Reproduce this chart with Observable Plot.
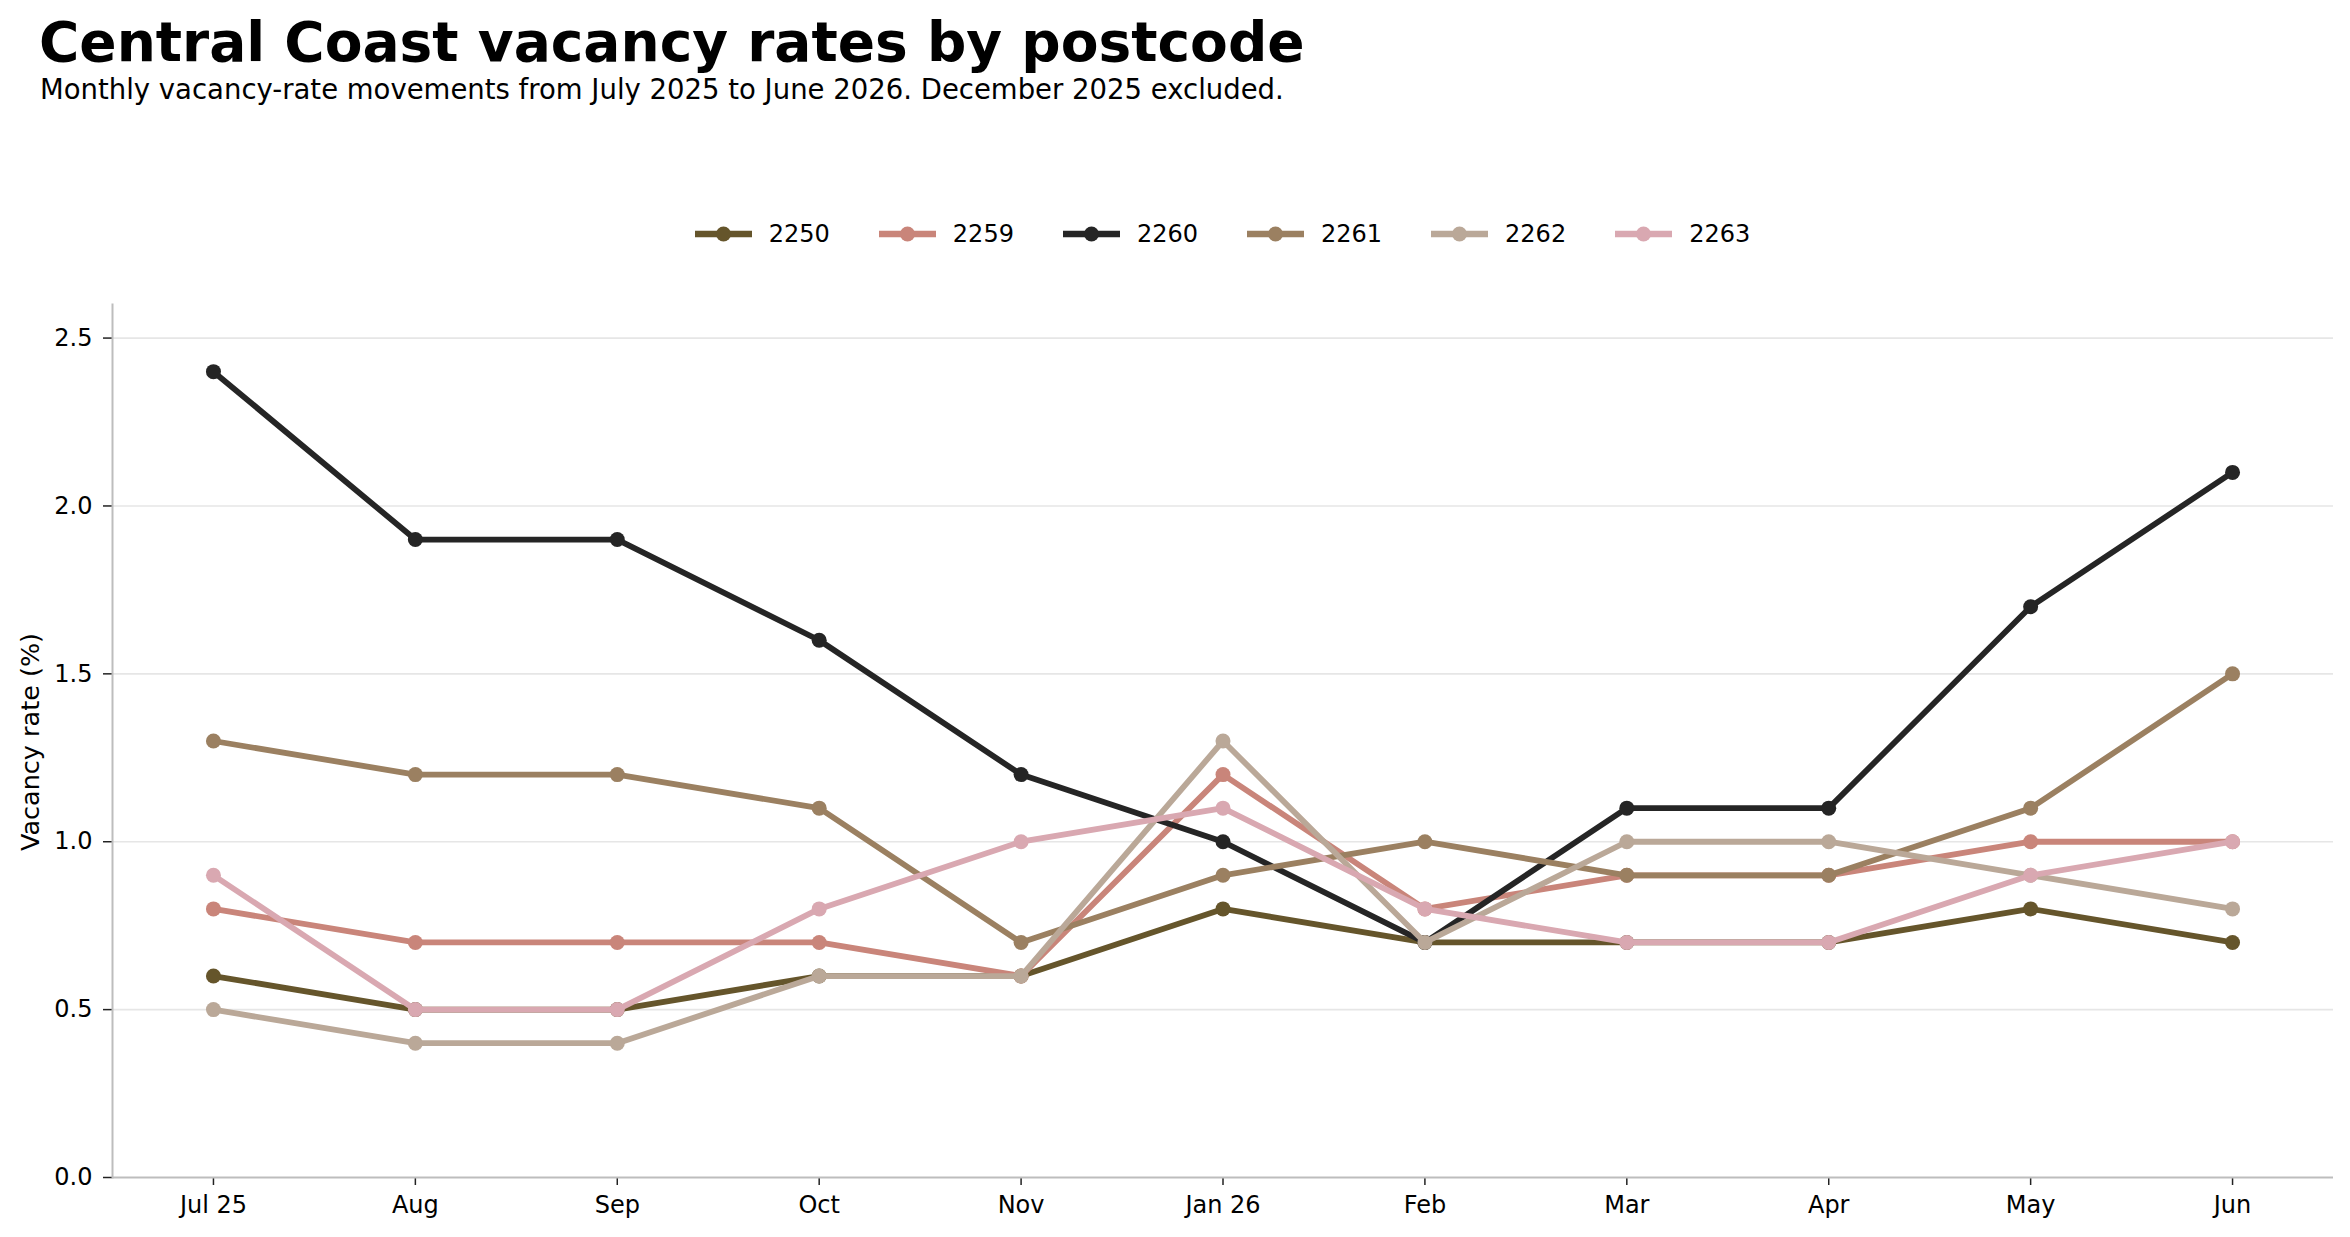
<!DOCTYPE html>
<html>
<head>
<meta charset="utf-8">
<script src="https://cdn.jsdelivr.net/npm/d3@7"></script>
<script src="https://cdn.jsdelivr.net/npm/@observablehq/plot@0.6"></script>
<style>
  html, body { margin: 0; padding: 0; background: #fff; }
  body { width: 2350px; height: 1237px; position: relative; overflow: hidden; font-family: "DejaVu Sans", sans-serif; color: #000; }
  #title { position: absolute; left: 39px; top: 15px; font-size: 55px; line-height: 55px; font-weight: bold; white-space: nowrap; }
  #subtitle { position: absolute; left: 40px; top: 76px; font-size: 27.5px; line-height: 27.5px; white-space: nowrap; }
  #legend { position: absolute; left: 112px; width: 2221px; top: 216px; height: 36px; display: flex; justify-content: center; align-items: center; z-index: 2; }
  .item { display: flex; align-items: center; margin: 0 24.5px; font-size: 24px; }
  .item svg { margin-right: 17px; }
  #ylabel { position: absolute; left: 30px; top: 742px; transform: translate(-50%, -50%) rotate(-90deg); font-size: 25.5px; white-space: nowrap; z-index: 2; }
  #chart { position: absolute; left: 0; top: 270px; z-index: 1; }
</style>
</head>
<body>
<div id="title">Central Coast vacancy rates by postcode</div>
<div id="subtitle">Monthly vacancy-rate movements from July 2025 to June 2026. December 2025 excluded.</div>
<div id="legend"></div>
<div id="ylabel">Vacancy rate (%)</div>
<div id="chart"></div>
<script>
// Months shown on the x axis (December 2025 is not reported)
const months = ["Jul 25", "Aug", "Sep", "Oct", "Nov", "Jan 26", "Feb", "Mar", "Apr", "May", "Jun"];

// Postcodes and their line colours
const postcodes = ["2250", "2259", "2260", "2261", "2262", "2263"];
const colors = ["#65552b", "#c9857a", "#252525", "#9b8061", "#baa898", "#d9a8b1"];

// Vacancy rate (%) per postcode, one value per month
const rate2250 = [0.6, 0.5, 0.5, 0.6, 0.6, 0.8, 0.7, 0.7, 0.7, 0.8, 0.7];
const rate2259 = [0.8, 0.7, 0.7, 0.7, 0.6, 1.2, 0.8, 0.9, 0.9, 1.0, 1.0];
const rate2260 = [2.4, 1.9, 1.9, 1.6, 1.2, 1.0, 0.7, 1.1, 1.1, 1.7, 2.1];
const rate2261 = [1.3, 1.2, 1.2, 1.1, 0.7, 0.9, 1.0, 0.9, 0.9, 1.1, 1.5];
const rate2262 = [0.5, 0.4, 0.4, 0.6, 0.6, 1.3, 0.7, 1.0, 1.0, 0.9, 0.8];
const rate2263 = [0.9, 0.5, 0.5, 0.8, 1.0, 1.1, 0.8, 0.7, 0.7, 0.9, 1.0];

const yTicks = [0, 0.5, 1.0, 1.5, 2.0, 2.5];

const seriesValues = [rate2250, rate2259, rate2260, rate2261, rate2262, rate2263];
const rows = postcodes.flatMap((code, i) =>
  months.map((month, j) => ({ code, month, rate: seriesValues[i][j] }))
);

// Each postcode draws its line and then its markers, so later series sit on top
const seriesMarks = postcodes.flatMap(code => {
  const data = rows.filter(d => d.code === code);
  return [
    Plot.line(data, { x: "month", y: "rate", stroke: "code", strokeWidth: 5.8, strokeLinejoin: "round", strokeLinecap: "round" }),
    Plot.dot(data, { x: "month", y: "rate", fill: "code", r: 7.5, stroke: "none" })
  ];
});

const chart = Plot.plot({
  width: 2350,
  height: 967,
  marginLeft: 112,
  marginRight: 17,
  marginTop: 34,
  marginBottom: 60,
  style: { fontFamily: "DejaVu Sans, sans-serif", fontSize: "24px", color: "#000", background: "transparent" },
  x: { type: "point", domain: months, padding: 0.5, round: false },
  y: { domain: [0, 2.6] },
  color: { domain: postcodes, range: colors },
  marks: [
    Plot.gridY(yTicks.filter(t => t > 0), { stroke: "#e6e6e6", strokeOpacity: 1, strokeWidth: 1.6 }),
    Plot.axisY({ ticks: yTicks, tickFormat: d3.format(".1f"), tickSize: 9, tickPadding: 11, label: null, stroke: "#222", strokeWidth: 1.5 }),
    Plot.axisX({ tickSize: 8, tickPadding: 10, label: null, stroke: "#222", strokeWidth: 1.5 }),
    Plot.ruleY([0], { stroke: "#bdbdbd", strokeWidth: 2 }),
    Plot.frame({ anchor: "left", stroke: "#bdbdbd", strokeWidth: 2 }),
    ...seriesMarks
  ]
});
document.getElementById("chart").appendChild(chart);

// Legend: line-and-marker swatch plus postcode
const legend = d3.select("#legend");
postcodes.forEach((code, i) => {
  const item = legend.append("div").attr("class", "item");
  const svg = item.append("svg").attr("width", 57).attr("height", 20);
  svg.append("line").attr("x1", 0).attr("x2", 57).attr("y1", 10).attr("y2", 10)
    .attr("stroke", colors[i]).attr("stroke-width", 6.5);
  svg.append("circle").attr("cx", 28.5).attr("cy", 10).attr("r", 7.5).attr("fill", colors[i]);
  item.append("span").text(code);
});
</script>
</body>
</html>
